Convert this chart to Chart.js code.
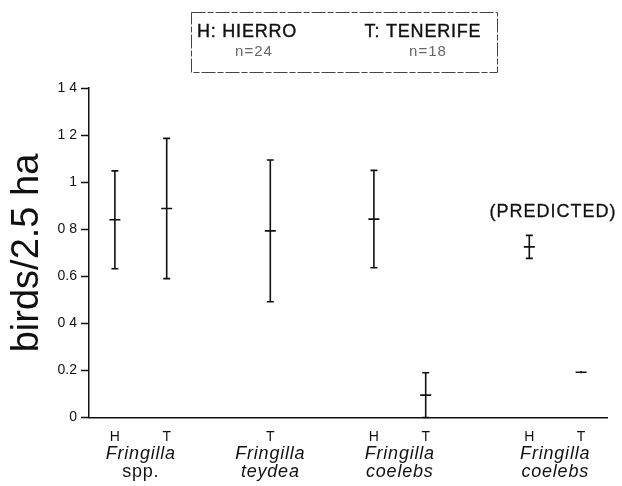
<!DOCTYPE html>
<html>
<head>
<meta charset="utf-8">
<script src="https://cdn.jsdelivr.net/npm/chart.js@4.4.1/dist/chart.umd.min.js"></script>
<style>
  html, body { margin: 0; padding: 0; background: #fff; }
</style>
</head>
<body>
<canvas id="birds" width="622" height="486"></canvas>
<script>
// slots along the x axis, blanks are the gaps between groups
var categories = ['H', 'T', '', 'T', '', 'H', 'T', '', 'H', 'T'];
var means  = [0.84, 0.888, null, 0.793, null, 0.843, 0.095, null, 0.725, 0.192];
var errors = [0.208, 0.298, null, 0.301, null, 0.207, 0.095, null, 0.049, 0.004];

var yTickLabels = ['0', '0.2', '0 4', '0.6', '0 8', '1', '1 2', '1 4'];

var groupTop    = ['Fringilla', 'Fringilla', 'Fringilla', 'Fringilla'];
var groupBottom = ['spp.', 'teydea', 'coelebs', 'coelebs'];
var groupSlots  = [[0, 1], [3, 3], [5, 6], [8, 9]];

var ink = '#111';
var font = '"Liberation Sans", Arial, sans-serif';

// fill plus a hairline stroke, the scan makes the lettering a bit heavy
function heavyText(ctx, text, x, y) {
    ctx.fillText(text, x, y);
    ctx.strokeText(text, x, y);
}

var errorBars = {
    id: 'errorBars',
    afterDatasetsDraw: function(chart) {
        var ctx = chart.ctx;
        var x = chart.scales.x, y = chart.scales.y;
        ctx.save();
        ctx.strokeStyle = ink;
        ctx.lineWidth = 1.6;
        for (var i = 0; i < means.length; i++) {
            if (means[i] === null) continue;
            var px = x.getPixelForValue(i);
            var top = y.getPixelForValue(means[i] + errors[i]);
            var bot = y.getPixelForValue(Math.max(0, means[i] - errors[i]));
            ctx.beginPath();
            ctx.moveTo(px, top); ctx.lineTo(px, bot);
            if (bot - top > 4) {
                ctx.moveTo(px - 3.5, top); ctx.lineTo(px + 3.5, top);
                ctx.moveTo(px - 3.5, bot); ctx.lineTo(px + 3.5, bot);
            }
            ctx.stroke();
        }
        ctx.restore();
    }
};

var decorations = {
    id: 'decorations',
    afterDraw: function(chart) {
        var ctx = chart.ctx;
        var x = chart.scales.x;
        ctx.save();
        ctx.fillStyle = ink;
        ctx.strokeStyle = ink;
        ctx.lineWidth = 0.3;
        ctx.textAlign = 'center';
        ctx.textBaseline = 'alphabetic';

        // species names under the H/T letters
        ctx.letterSpacing = '0.8px';
        for (var g = 0; g < groupTop.length; g++) {
            var cx = (x.getPixelForValue(groupSlots[g][0]) + x.getPixelForValue(groupSlots[g][1])) / 2;
            ctx.font = 'italic 18px ' + font;
            ctx.fillText(groupTop[g], cx, 459);
            ctx.font = (groupBottom[g] === 'spp.' ? '' : 'italic ') + '18px ' + font;
            ctx.fillText(groupBottom[g], cx, 477);
        }

        ctx.textBaseline = 'middle';
        ctx.letterSpacing = '1px';
        ctx.font = '18px ' + font;
        heavyText(ctx, '(PREDICTED)', 553, 212);

        // y title
        ctx.save();
        ctx.translate(28, 253);
        ctx.rotate(-Math.PI / 2);
        ctx.letterSpacing = '0px';
        ctx.font = '38px ' + font;
        ctx.fillText('birds/2.5 ha', 0, 0);
        ctx.restore();

        // key box
        ctx.strokeStyle = '#444';
        ctx.lineWidth = 1;
        ctx.setLineDash([14, 2, 6, 2]);
        ctx.strokeRect(191.5, 12.5, 306, 60);
        ctx.setLineDash([]);
        ctx.strokeStyle = ink;
        ctx.lineWidth = 0.4;
        ctx.letterSpacing = '0.8px';
        ctx.font = '18px ' + font;
        ctx.fillStyle = ink;
        heavyText(ctx, 'H: HIERRO', 247, 32);
        heavyText(ctx, 'T: TENERIFE', 423, 32);
        ctx.fillStyle = '#666';
        ctx.letterSpacing = '1px';
        ctx.font = '15px ' + font;
        ctx.fillText('n=24', 254, 52);
        ctx.fillText('n=18', 428, 52);
        ctx.restore();
    }
};

new Chart(document.getElementById('birds'), {
    type: 'line',
    data: {
        labels: categories,
        datasets: [{
            data: means,
            showLine: false,
            pointStyle: 'line',
            pointRadius: 5.5,
            pointBorderWidth: 1.6,
            pointBorderColor: ink,
            pointBackgroundColor: ink
        }]
    },
    plugins: [errorBars, decorations],
    options: {
        responsive: false,
        animation: false,
        layout: { padding: { top: 88, right: 15, left: 0, bottom: 0 } },
        plugins: { legend: { display: false }, tooltip: { enabled: false } },
        scales: {
            x: {
                type: 'category',
                offset: true,
                grid: { display: true, drawOnChartArea: false, drawTicks: false },
                border: { color: ink, width: 1.5 },
                ticks: {
                    color: ink,
                    padding: 11,
                    font: { family: font, size: 14 },
                    maxRotation: 0,
                    autoSkip: false
                },
                afterFit: function(scale) { scale.height = 68.5; }
            },
            y: {
                min: 0,
                max: 1.4,
                ticks: {
                    stepSize: 0.2,
                    color: ink,
                    padding: 4,
                    font: { family: font, size: 14 },
                    callback: function(value, index) { return yTickLabels[index]; }
                },
                grid: { drawOnChartArea: false, tickLength: 8, color: ink, tickWidth: 1.5 },
                border: { color: ink, width: 1.5 },
                afterFit: function(scale) { scale.width = 89; }
            }
        }
    }
});
</script>
</body>
</html>
